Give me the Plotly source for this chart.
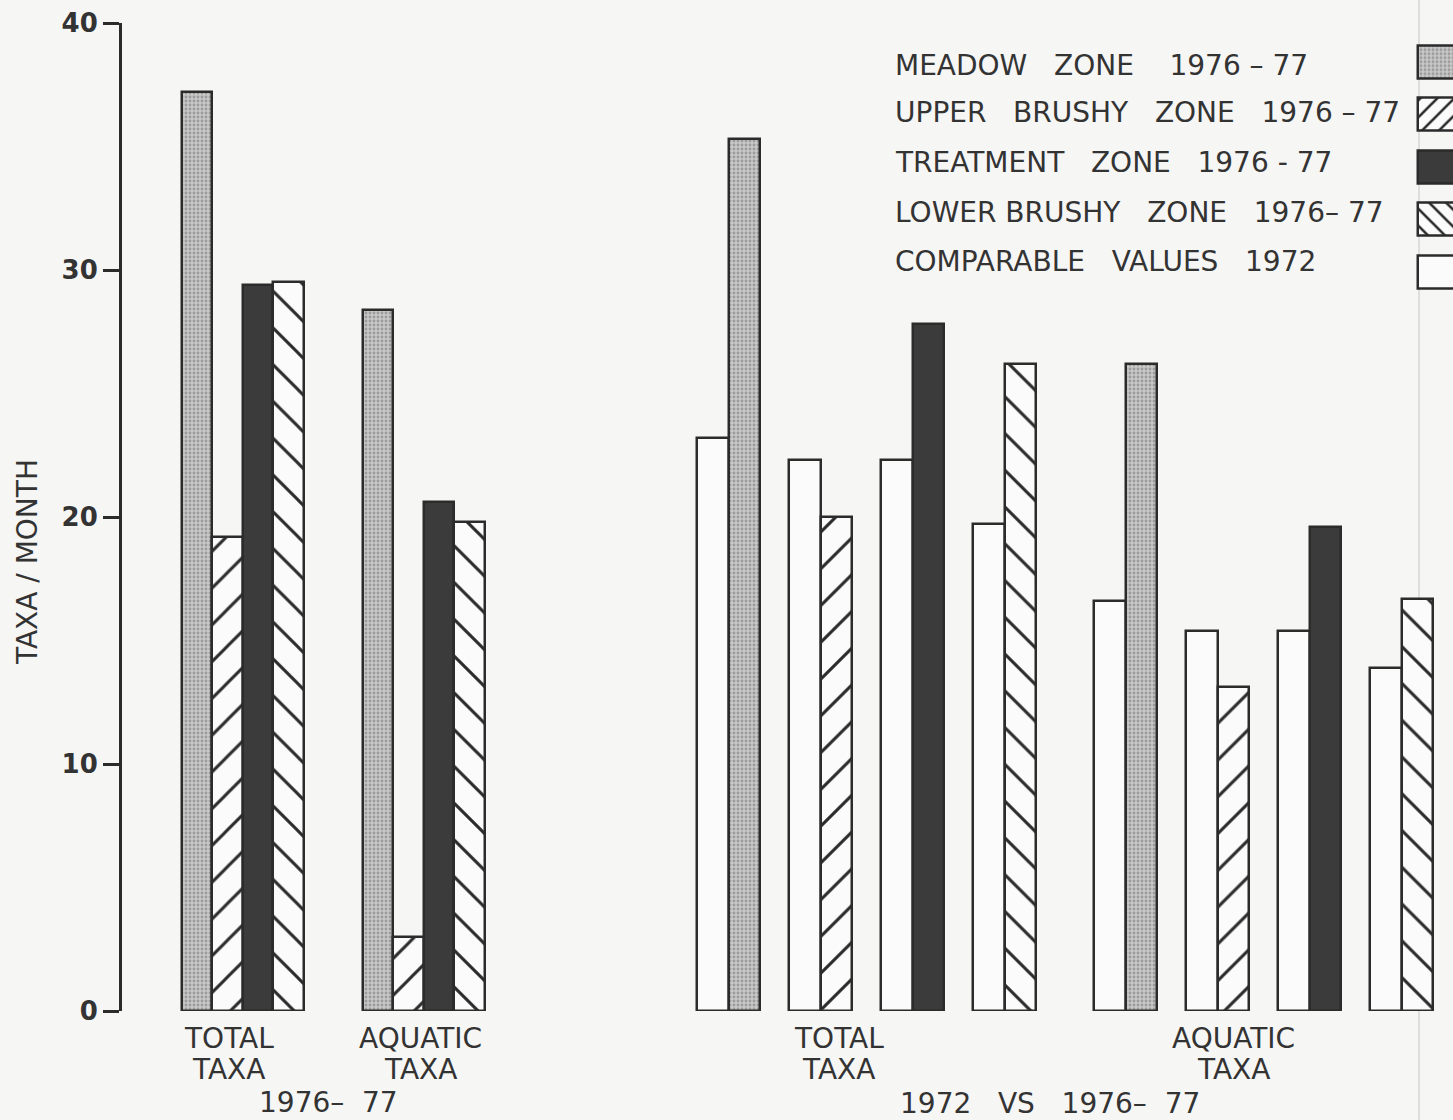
import plotly.graph_objects as go

# ---------------- data ----------------
categories = ["TOTAL<br>TAXA", "AQUATIC<br>TAXA"]

# Left panel: taxa per month in 1976-77, values are [total, aquatic]
meadow_1976 = [37.2, 28.4]
upper_brushy_1976 = [19.2, 3.0]
treatment_1976 = [29.4, 20.6]
lower_brushy_1976 = [29.5, 19.8]

# Right panel: comparable 1972 values next to 1976-77 values, [total, aquatic]
meadow_1972 = [23.2, 16.6]
meadow_1976_cmp = [35.3, 26.2]
upper_brushy_1972 = [22.3, 15.4]
upper_brushy_1976_cmp = [20.0, 13.1]
treatment_1972 = [22.3, 15.4]
treatment_1976_cmp = [27.8, 19.6]
lower_brushy_1972 = [19.7, 13.9]
lower_brushy_1976_cmp = [26.2, 16.7]

legend_labels = [
    "MEADOW\u00a0\u00a0 ZONE\u00a0\u00a0\u00a0 1976 \u2013 77",
    "UPPER\u00a0\u00a0 BRUSHY\u00a0\u00a0 ZONE\u00a0\u00a0 1976 \u2013 77",
    "TREATMENT\u00a0\u00a0 ZONE\u00a0\u00a0 1976 - 77",
    "LOWER BRUSHY\u00a0\u00a0 ZONE\u00a0\u00a0 1976\u2013 77",
    "COMPARABLE\u00a0\u00a0 VALUES\u00a0\u00a0 1972",
]
y_ticks = [0, 10, 20, 30, 40]
y_title = "TAXA / MONTH"
panel_titles = ["1976\u2013\u00a0 77", "1972\u00a0\u00a0 VS\u00a0\u00a0 1976\u2013\u00a0 77"]

# ---------------- styling ----------------
W, H = 1453, 1120
INK = "#2b2b2b"
TEXT = "#333333"
PAPER = "#f6f6f5"
WHITE = "#fbfbfb"
FONT = "DejaVu Sans"


def px_x(x):
    return x / W


def px_y(y):
    return (H - y) / H


def fill(kind, hatch=26, stroke=3.0):
    outline = dict(color=INK, width=2.5)
    hatch_style = dict(fgcolor=INK, bgcolor=WHITE, fgopacity=1,
                       size=hatch, solidity=stroke / hatch)
    if kind == "meadow":
        return dict(color="#c2c2c2",
                    pattern=dict(shape=".", fgcolor="#6e6e6e", bgcolor="#c8c8c8",
                                 size=4, solidity=0.4),
                    line=outline)
    if kind == "upper":
        return dict(color=WHITE, pattern=dict(shape="/", **hatch_style),
                    line=outline)
    if kind == "treatment":
        return dict(color="#3b3b3b", line=outline)
    if kind == "lower":
        return dict(color=WHITE, pattern=dict(shape="\\", **hatch_style),
                    line=outline)
    return dict(color=WHITE, line=outline)


fig = go.Figure()
x_pos = list(range(len(categories)))

# ---- left panel: four zones side by side ----
left_series = [("meadow", meadow_1976), ("upper", upper_brushy_1976),
               ("treatment", treatment_1976), ("lower", lower_brushy_1976)]
bw_left = 30.5 / 181.0
for i, (kind, vals) in enumerate(left_series):
    fig.add_trace(go.Bar(x=x_pos, y=vals, width=bw_left,
                         offset=-2 * bw_left + i * bw_left,
                         marker=fill(kind), xaxis="x", yaxis="y",
                         showlegend=False, hoverinfo="y"))

# ---- right panel: 1972 vs 1976-77 pairs ----
right_pairs = [("meadow", meadow_1972, meadow_1976_cmp),
               ("upper", upper_brushy_1972, upper_brushy_1976_cmp),
               ("treatment", treatment_1972, treatment_1976_cmp),
               ("lower", lower_brushy_1972, lower_brushy_1976_cmp)]
unit_r = 397.0
bw_right = 31.5 / unit_r
pitch_r = 92.0 / unit_r
start_r = -169.5 / unit_r
for i, (kind, old, new) in enumerate(right_pairs):
    fig.add_trace(go.Bar(x=x_pos, y=old, width=bw_right,
                         offset=start_r + i * pitch_r,
                         marker=fill("white"), xaxis="x2", yaxis="y",
                         showlegend=False, hoverinfo="y"))
    fig.add_trace(go.Bar(x=x_pos, y=new, width=bw_right,
                         offset=start_r + i * pitch_r + bw_right,
                         marker=fill(kind), xaxis="x2", yaxis="y",
                         showlegend=False, hoverinfo="y"))

# ---- key swatches (drawn as a tiny horizontal bar panel) ----
key_kinds = ["meadow", "upper", "treatment", "lower", "white"]
for i, kind in enumerate(key_kinds):
    fig.add_trace(go.Bar(x=[2], y=[i], base=0, orientation="h", width=0.63,
                         marker=fill(kind, hatch=12, stroke=2.6),
                         xaxis="x3", yaxis="y3",
                         showlegend=False, hoverinfo="skip"))

annotations = []
label_font = dict(family=FONT, size=28, color=TEXT)
# category labels under each group, one annotation per text line
for xref, shifts in (("x", (-14, -3)), ("x2", (-28, -30))):
    for i, cat in enumerate(categories):
        for j, line in enumerate(cat.split("<br>")):
            annotations.append(dict(x=i, xref=xref, y=px_y(1038 + 31 * j),
                                    yref="paper", text=line, showarrow=False,
                                    xanchor="center", yanchor="middle",
                                    xshift=shifts[i], font=label_font))
# panel titles
annotations.append(dict(x=px_x(328), y=px_y(1102), xref="paper", yref="paper",
                        text=panel_titles[0], showarrow=False,
                        xanchor="center", yanchor="middle", font=label_font))
annotations.append(dict(x=px_x(1050), y=px_y(1103), xref="paper", yref="paper",
                        text=panel_titles[1], showarrow=False,
                        xanchor="center", yanchor="middle", font=label_font))
# y-axis title
annotations.append(dict(x=px_x(27), y=px_y(562), xref="paper", yref="paper",
                        text=y_title, textangle=-90, showarrow=False,
                        xanchor="center", yanchor="middle",
                        font=dict(family=FONT, size=28, color=TEXT)))
# key text
key_rows = [65, 113, 162, 212, 262]
for label, row in zip(legend_labels, key_rows):
    annotations.append(dict(x=px_x(893), y=px_y(row), xref="paper", yref="paper",
                            text=label, showarrow=False, xanchor="left",
                            yanchor="middle",
                            font=dict(family=FONT, size=28, color=TEXT)))

fig.update_layout(
    width=W, height=H,
    margin=dict(l=0, r=0, t=0, b=0),
    paper_bgcolor=PAPER, plot_bgcolor="rgba(0,0,0,0)",
    barmode="overlay", bargap=0,
    xaxis=dict(domain=[px_x(152), px_x(514)], range=[-0.5, 1.5], visible=False,
               anchor="y", automargin=False),
    xaxis2=dict(domain=[px_x(668), 1.0], range=[-0.5, -0.5 + 785 / unit_r],
                visible=False, anchor="y", automargin=False),
    yaxis=dict(domain=[px_y(1011), px_y(23)], range=[0, 40], anchor="free",
               position=px_x(120), showline=True, linecolor=INK, linewidth=3,
               ticks="outside", ticklen=16, tickwidth=3, tickcolor=INK,
               tickvals=y_ticks, showgrid=False, zeroline=False,
               automargin=False,
               tickfont=dict(family=FONT, size=26, color=TEXT, weight="bold")),
    xaxis3=dict(domain=[px_x(1415), 1.0], range=[-0.1, 1], visible=False,
                anchor="y3", automargin=False),
    yaxis3=dict(domain=[px_y(298.25), px_y(35.75)], range=[4.5, -0.5],
                visible=False, anchor="x3", automargin=False),
    annotations=annotations,
    shapes=[dict(type="line", xref="paper", yref="paper",
                 x0=px_x(1419), x1=px_x(1419), y0=0, y1=1,
                 line=dict(color="#dedede", width=2), layer="below")],
)

fig.write_html("out.html")
